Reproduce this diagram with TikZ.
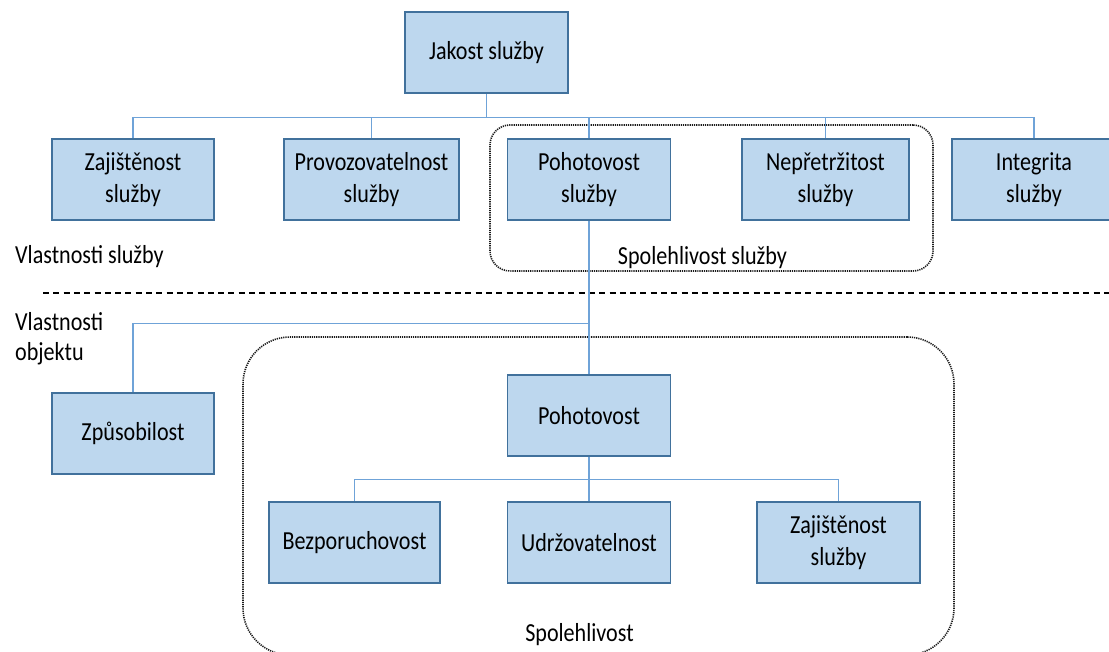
\documentclass[tikz,border=0pt]{standalone}
\usepackage{fontspec}
\setmainfont{Carlito}[FakeStretch=0.85]
\definecolor{boxfill}{HTML}{BDD7EE}
\definecolor{boxline}{HTML}{41719C}
\definecolor{linkline}{HTML}{6FA3D8}
\begin{document}
\begin{tikzpicture}[x=1pt,y=-1pt,
  lbl/.style={font=\fontsize{26}{30}\selectfont, inner sep=0pt},
  card/.style={draw=boxline, line width=1.8pt, fill=boxfill, inner sep=0pt,
    minimum height=81pt, align=center, font=\fontsize{26}{32}\selectfont},
  link/.style={draw=linkline, line width=1.1pt},
  groupbox/.style={draw=black!90, line width=1.6pt, dash pattern=on 1.2pt off 1pt, inner sep=0pt},
  sep/.style={draw=black, line width=2pt, dash pattern=on 6pt off 4.3pt}]
\useasboundingbox (0,0) rectangle (1109,652);
\clip (0,0) rectangle (1109,652);

% group frames
\node[groupbox, rounded corners=20pt, minimum width=443pt, minimum height=146pt] (grpA) at (711.5,198) {};
\node[groupbox, rounded corners=47pt, minimum width=711pt, minimum height=318pt] (grpB) at (598.5,496) {};

% top level and service properties
\node[card, minimum width=163pt] (jakost) at (486.5,52.5) {Jakost služby};
\node[card, minimum width=162pt] (zaj) at (133,179.5) {Zajištěnost\\služby};
\node[card, minimum width=175pt] (prov) at (371.5,179.5) {Provozovatelnost\\služby};
\node[card, minimum width=163pt] (pohs) at (589,179.5) {Pohotovost\\služby};
\node[card, minimum width=167pt] (nep) at (825.5,179.5) {Nepřetržitost\\služby};
\node[card, minimum width=164pt] (integ) at (1034,179.5) {Integrita\\služby};

% object properties
\node[card, minimum width=162pt] (zpus) at (133,433.5) {Způsobilost};
\node[card, minimum width=163pt] (poh) at (589,415.5) {Pohotovost};
\node[card, minimum width=171pt] (bez) at (354.5,542.5) {Bezporuchovost};
\node[card, minimum width=163pt] (udr) at (589,542.5) {Udržovatelnost};
\node[card, minimum width=163pt] (zaj2) at (838.5,542.5) {Zajištěnost\\služby};

% labels
\node[lbl, anchor=base west] (vs) at (15,264) {Vlastnosti služby};
\node[lbl, anchor=base west, align=left] (vo) at (15,361) {Vlastnosti\\objektu};
\node[lbl, anchor=base] (spA) at (702.5,265) {Spolehlivost služby};
\node[lbl, anchor=base] (spB) at (579.5,641) {Spolehlivost};

% separator between service and object properties
\coordinate (sepL) at (43,293);
\coordinate (sepR) at (1109,293);
\draw[sep] (sepL) -- (sepR);

% connectors
\draw[link] (jakost.south) -- ++(0,24) -| (zaj.north);
\draw[link] (jakost.south) -- ++(0,24) -| (prov.north);
\draw[link] (jakost.south) -- ++(0,24) -| (pohs.north);
\draw[link] (jakost.south) -- ++(0,24) -| (nep.north);
\draw[link] (jakost.south) -- ++(0,24) -| (integ.north);
\draw[link] (pohs.south) -- (poh.north);
\draw[link] (pohs.south) -- ++(0,103) -| (zpus.north);
\draw[link] (poh.south) -- ++(0,23) -| (bez.north);
\draw[link] (poh.south) -- (udr.north);
\draw[link] (poh.south) -- ++(0,23) -| (zaj2.north);
\end{tikzpicture}
\end{document}
